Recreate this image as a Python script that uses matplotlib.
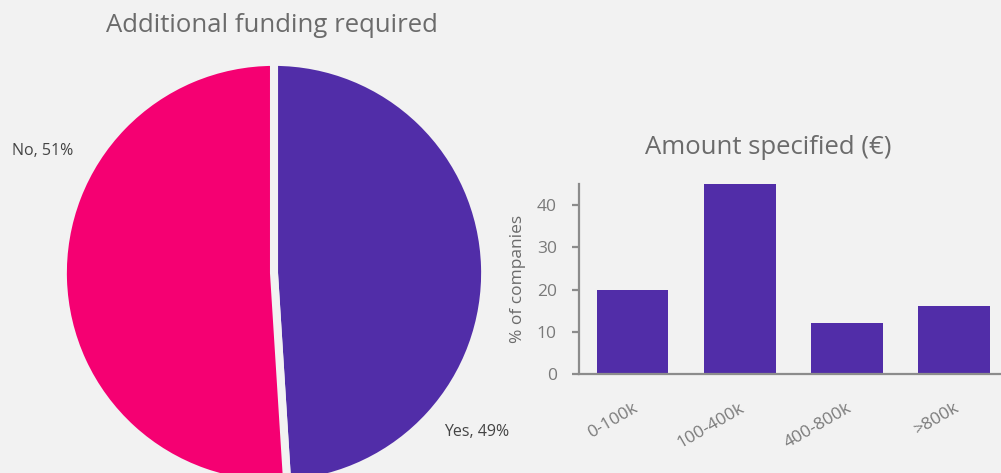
import matplotlib.pyplot as plt

# Funding survey: share of companies needing more funding, and how much
pie_labels = ["Yes", "No"]
pie_values = [49, 51]

amount_bins = ["0-100k", "100-400k", "400-800k", ">800k"]
amount_share = [20, 45, 12, 16]

BG = "#f2f2f2"
PURPLE = "#512da8"
PINK = "#f50072"
TEXT = "#6b6b6b"

plt.rcParams["font.family"] = ["Open Sans", "DejaVu Sans"]

fig = plt.figure(figsize=(10.01, 4.73), dpi=100, facecolor=BG)

# Pie: Yes on the right, starting at twelve o'clock
ax_pie = fig.add_axes([69 / 1001, -5 / 473, 410 / 1001, 410 / 473])
ax_pie.set_facecolor(BG)
ax_pie.pie(pie_values, colors=[PURPLE, PINK], startangle=90, counterclock=False,
           radius=1.03, wedgeprops=dict(edgecolor=BG, linewidth=5.8))
ax_pie.set_xlim(-1, 1)
ax_pie.set_ylim(-1, 1)
ax_pie.set_aspect("equal")
ax_pie.axis("off")
ax_pie.text(0.83, -0.775, f"{pie_labels[0]}, {pie_values[0]}%", ha="left", va="center",
            fontsize=11.5, color="#444444", clip_on=False)
ax_pie.text(-1.278, 0.595, f"{pie_labels[1]}, {pie_values[1]}%", ha="left", va="center",
            fontsize=11.5, color="#444444", clip_on=False)
fig.text(272 / 1001, 1 - 25 / 473, "Additional funding required", ha="center", va="center",
         fontsize=18.5, color=TEXT)

# Bar chart of amounts
ax_bar = fig.add_axes([579 / 1001, 99 / 473, 428.5 / 1001, 190 / 473])
ax_bar.set_facecolor(BG)
ax_bar.bar(range(len(amount_bins)), amount_share, width=0.67, color=PURPLE)
ax_bar.set_xlim(-0.5, 3.5)
ax_bar.set_ylim(0, 45)
ax_bar.set_yticks([0, 10, 20, 30, 40])
ax_bar.set_xticks(range(len(amount_bins)))
ax_bar.set_xticklabels(amount_bins, rotation=30, ha="right", rotation_mode="anchor")
for s in ("top", "right"):
    ax_bar.spines[s].set_visible(False)
for s in ("left", "bottom"):
    ax_bar.spines[s].set_color("#8c8c8c")
    ax_bar.spines[s].set_linewidth(1.6)
ax_bar.tick_params(axis="y", length=5, width=1.6, color="#8c8c8c", labelsize=12.5,
                   labelcolor="#7a7a7a", pad=11)
ax_bar.tick_params(axis="x", length=0, labelsize=12.5, labelcolor="#7a7a7a", pad=19)
ax_bar.set_ylabel("% of companies", fontsize=12.5, color=TEXT, labelpad=8)
fig.text(768 / 1001, 1 - 147 / 473, "Amount specified (€)", ha="center", va="center",
         fontsize=18.5, color=TEXT)

fig.savefig("out.png", dpi=100, facecolor=BG)
